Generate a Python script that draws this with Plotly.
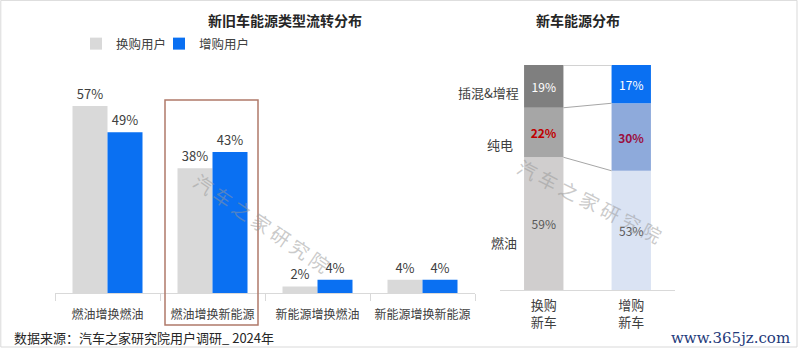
import plotly.graph_objects as go

# ---------------- data ----------------
flow_categories = ["燃油增换燃油", "燃油增换新能源", "新能源增换燃油", "新能源增换新能源"]
replace_users = [57, 38, 2, 4]   # 换购用户
add_users = [49, 43, 4, 4]       # 增购用户

energy_bars = ["换购<br>新车", "增购<br>新车"]
energy_types = ["燃油", "纯电", "插混&增程"]
fuel_share = [59, 53]
ev_share = [22, 30]
phev_share = [19, 17]

W, H = 800, 352
FONT = "Microsoft YaHei, Noto Sans CJK SC, sans-serif"
TXT = "#404040"

def px(x):
    return x / W

def py(y):
    return 1 - y / H

fig = go.Figure()

# ---------------- left chart ----------------
fig.add_trace(go.Bar(
    x=flow_categories, y=replace_users, name="换购用户",
    marker=dict(color="#d9d9d9", line=dict(width=0)),
    text=[f"{v}%" for v in replace_users], textposition="outside",
    textfont=dict(size=13, color=TXT), cliponaxis=False,
    xaxis="x", yaxis="y", offsetgroup="a", legend="legend",
))
fig.add_trace(go.Bar(
    x=flow_categories, y=add_users, name="增购用户",
    marker=dict(color="#0a70f2", line=dict(width=0)),
    text=[f"{v}%" for v in add_users], textposition="outside",
    textfont=dict(size=13, color=TXT), cliponaxis=False,
    xaxis="x", yaxis="y", offsetgroup="b", legend="legend2",
))

# ---------------- right chart (stacked via base) ----------------
seg_values = [fuel_share, ev_share, phev_share]
seg_colors = [["#d0cece", "#dae3f3"], ["#a6a6a6", "#8eaadb"], ["#7f7f7f", "#0a70f2"]]
seg_text_colors = [["#595959", "#595959"], ["#c00000", "#9b1040"], ["#ffffff", "#ffffff"]]
seg_bold = [False, True, False]
BW = 0.45
bases = [[0, 0], [0, 0], [0, 0]]
for i in range(1, 3):
    bases[i] = [bases[i - 1][k] + seg_values[i - 1][k] for k in range(2)]

for i, name in enumerate(energy_types):
    fig.add_trace(go.Bar(
        x=energy_bars, y=seg_values[i], base=bases[i], name=name,
        marker=dict(color=seg_colors[i], line=dict(width=0)),
        width=BW, offset=-BW / 2, offsetgroup="s",
        text=[(f"<b>{v}%</b>" if seg_bold[i] else f"{v}%") for v in seg_values[i]],
        textposition="inside", insidetextanchor="middle", textangle=0,
        textfont=dict(size=12, color=seg_text_colors[i]),
        xaxis="x2", yaxis="y2", showlegend=False,
    ))

shapes = []
# connecting lines between the two stacked bars
tops = [[bases[i][k] + seg_values[i][k] for k in range(2)] for i in range(3)]
for i in [0, 1, 2]:
    shapes.append(dict(type="line", xref="x2", yref="y2",
                       x0=0 + BW / 2, x1=1 - BW / 2,
                       y0=tops[i][0], y1=tops[i][1],
                       line=dict(color="#a6a6a6", width=1)))
# highlight box around second category
shapes.append(dict(type="rect", xref="paper", yref="paper",
                   x0=px(165), x1=px(258), y0=py(325), y1=py(100),
                   line=dict(color="#b07a6a", width=1.5)))
# frame
shapes.append(dict(type="rect", xref="paper", yref="paper",
                   x0=0.001, x1=px(797), y0=py(347), y1=0.999,
                   line=dict(color="#d9d9d9", width=1)))

def ann(text, x, y, size=13, color=TXT, xanchor="center", **kw):
    d = dict(text=text, x=x, y=y, xref="paper", yref="paper", xanchor=xanchor,
             yanchor="middle", showarrow=False, font=dict(size=size, color=color))
    d.update(kw)
    return d

annotations = [
    ann("<b>新旧车能源类型流转分布</b>", px(285), py(20), size=14, color="#262626"),
    ann("<b>新车能源分布</b>", px(578), py(20), size=14, color="#262626"),
    ann("数据来源：汽车之家研究院用户调研_ 2024年", px(12), py(337), size=13,
        color="#262626", xanchor="left"),
    dict(text="www.365jz.com", x=px(792), y=py(338), xref="paper", yref="paper",
         xanchor="right", yanchor="middle", showarrow=False,
         font=dict(size=15, color="#1f3a7a", family="DejaVu Serif, serif")),
    ann("汽 车 之 家 研 究 院", px(262), py(222), size=19,
        color="rgba(150,150,150,0.5)", textangle=34),
    ann("汽 车 之 家 研 究 院", px(590), py(200), size=19,
        color="rgba(150,150,150,0.5)", textangle=27),
]
# side labels of the stacked segments
side_shift = [-19, -12, -6]
side_right = [519, 515, 521]
for i, name in enumerate(energy_types):
    annotations.append(dict(text=name, x=px(side_right[i]), xref="paper",
                            y=bases[i][0] + seg_values[i][0] / 2, yref="y2", yshift=side_shift[i],
                            xanchor="right", yanchor="middle", showarrow=False,
                            font=dict(size=13, color=TXT)))

legend_common = dict(orientation="h", xanchor="left", yanchor="middle",
                     font=dict(size=12.5, color=TXT), itemwidth=30,
                     bgcolor="rgba(0,0,0,0)")

fig.update_layout(
    width=W, height=H,
    margin=dict(l=0, r=0, t=0, b=0),
    paper_bgcolor="white", plot_bgcolor="white",
    font=dict(family=FONT, size=13, color=TXT),
    barmode="group", bargap=1 / 3, bargroupgap=0,
    showlegend=True,
    legend=dict(x=px(76), y=py(44), **legend_common),
    legend2=dict(x=px(159), y=py(44), **legend_common),
    xaxis=dict(domain=[px(55), px(475)], range=[-0.5, 3.5], showgrid=False,
               showline=True, linecolor="#d9d9d9", linewidth=1,
               ticks="outside", tickson="boundaries", ticklen=7, tickcolor="#d9d9d9",
               ticklabelstandoff=11,
               tickangle=0, tickfont=dict(size=12, color=TXT), anchor="y"),
    yaxis=dict(domain=[py(293), py(60)], range=[0, 71], visible=False, anchor="x"),
    xaxis2=dict(domain=[px(500), px(675)], range=[-0.5, 1.5], showgrid=False,
                showline=True, linecolor="#d9d9d9", linewidth=1, ticks="",
                ticklabelstandoff=3,
                tickangle=0, tickfont=dict(size=13, color=TXT), anchor="y2"),
    yaxis2=dict(domain=[py(290), py(65)], range=[0, 100], visible=False, anchor="x2"),
    shapes=shapes, annotations=annotations,
)

fig.write_html("out.html")
